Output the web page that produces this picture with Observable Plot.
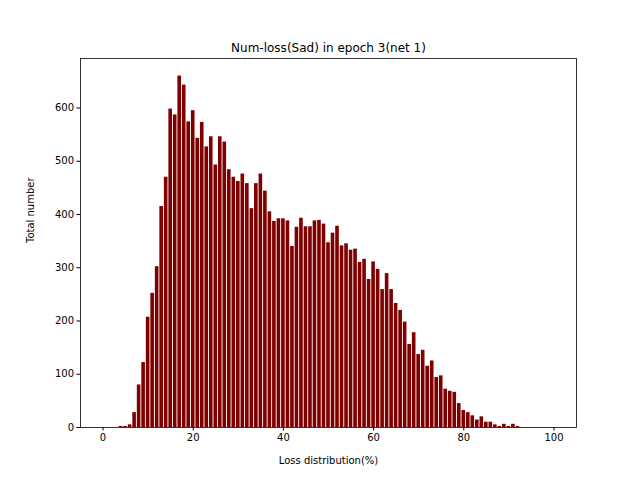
<!DOCTYPE html>
<html>
<head>
<meta charset="utf-8">
<script src="https://cdn.jsdelivr.net/npm/d3@7"></script>
<script src="https://cdn.jsdelivr.net/npm/@observablehq/plot@0.6"></script>
<style>
  body { margin: 0; background: #fff; }
</style>
</head>
<body>
<div id="chart"></div>
<script>
// bin centres (loss %) and counts
const lossPct = d3.range(0, 101);
const counts = [
  0, 0, 0, 0, 2, 2, 5, 28, 80, 122,
  207, 252, 302, 415, 470, 598, 587, 660, 643, 574,
  595, 543, 573, 527, 546, 493, 546, 536, 484, 470,
  462, 476, 458, 411, 458, 476, 444, 405, 387, 392,
  392, 388, 340, 376, 393, 377, 377, 388, 389, 382,
  347, 365, 378, 341, 345, 333, 335, 310, 316, 278,
  311, 297, 259, 289, 259, 233, 220, 198, 156, 178,
  137, 145, 115, 125, 94, 97, 72, 68, 66, 45,
  32, 28, 22, 14, 20, 10, 10, 5, 2, 6,
  2, 6, 2, 0, 0, 0, 0, 0, 0, 0,
  0
];
const xTicks = [0, 20, 40, 60, 80, 100];
const yTicks = [0, 100, 200, 300, 400, 500, 600];

const data = lossPct.map((x, i) => ({x, n: counts[i]}));

const chart = Plot.plot({
  width: 640,
  height: 480,
  marginLeft: 80,
  marginRight: 64,
  marginTop: 58,
  marginBottom: 53,
  style: {fontFamily: "DejaVu Sans", fontSize: "10px", color: "#000"},
  x: {domain: [-5, 105], ticks: xTicks, label: null},
  y: {domain: [0, 693], ticks: yTicks, label: null},
  marks: [
    Plot.rectY(data, {x1: d => d.x - 0.4, x2: d => d.x + 0.4, y: "n", fill: "#800000"}),
    Plot.axisX({ticks: xTicks, tickSize: 3.5, tickPadding: 3, fontSize: 10}),
    Plot.axisY({ticks: yTicks, tickSize: 3.5, tickPadding: 3, fontSize: 10}),
    Plot.frame({stroke: "#000", strokeWidth: 0.8}),
    Plot.text(["Num-loss(Sad) in epoch 3(net 1)"], {frameAnchor: "top", dy: -15, fontSize: 12}),
    Plot.text(["Loss distribution(%)"], {frameAnchor: "bottom", dy: 36, fontSize: 10}),
    Plot.text(["Total number"], {frameAnchor: "left", dx: -50, rotate: -90, fontSize: 10})
  ]
});
d3.select("#chart").append(() => chart);
</script>
</body>
</html>
